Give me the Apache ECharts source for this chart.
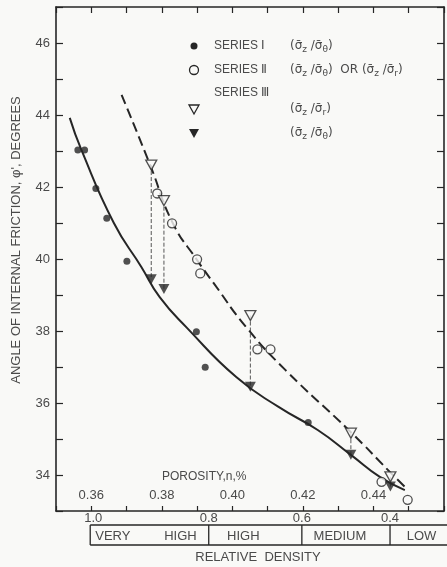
<!DOCTYPE html>
<html>
<head>
<meta charset="utf-8">
<script src="https://cdn.jsdelivr.net/npm/echarts@6/dist/echarts.min.js"></script>
<style>
  html, body { margin: 0; padding: 0; background: #f9f9f7; }
  #main { width: 447px; height: 567px; }
</style>
</head>
<body>
<div id="main"></div>
<script>
// Series I, filled circles: porosity n, friction angle phi'
const s1Porosity = [0.3562, 0.3581, 0.3613, 0.3644, 0.3701, 0.3898, 0.3923, 0.4215];
const s1Phi = [43.03, 43.03, 41.96, 41.13, 39.94, 37.98, 36.99, 35.46];
// Series II, open circles
const s2Porosity = [0.3787, 0.3829, 0.3900, 0.3909, 0.4071, 0.4108, 0.4423, 0.4497];
const s2Phi = [41.82, 40.99, 39.99, 39.60, 37.49, 37.49, 33.81, 33.31];
// Series III, (sz/sr) open triangles
const s3rPorosity = [0.3770, 0.3806, 0.4051, 0.4336, 0.4448];
const s3rPhi = [42.61, 41.62, 38.43, 35.16, 33.95];
// Series III, (sz/stheta) filled triangles
const s3tPorosity = [0.3770, 0.3806, 0.4051, 0.4336, 0.4448];
const s3tPhi = [39.44, 39.17, 36.45, 34.56, 33.68];
// fitted curves
const fitIPorosity = [0.3539, 0.3572, 0.3664, 0.3742, 0.3794, 0.3872, 0.4011, 0.4131, 0.4242, 0.4336, 0.4419, 0.4489];
const fitIPhi = [43.92, 43.03, 41.00, 39.78, 38.94, 38.08, 36.72, 35.89, 35.25, 34.56, 33.94, 33.58];
const fitIIPorosity = [0.3686, 0.3767, 0.3831, 0.3900, 0.3947, 0.4039, 0.4150, 0.4336, 0.4447, 0.4489];
const fitIIPhi = [44.56, 42.61, 41.00, 39.97, 39.33, 38.11, 36.92, 35.19, 34.08, 33.67];
// relative density scale under the axis
const densityLabels = ['1.0', '0.8', '0.6', '0.4'];
const densityPorosity = [0.3597, 0.3933, 0.4197, 0.4447];
const bandLabels = ['VERY HIGH', 'HIGH', 'MEDIUM', 'LOW'];

const bg = '#f9f9f7';
const ink = '#262626';
const textInk = '#4a4a4a';
const font = '"Liberation Sans", Arial, sans-serif';

const chartDom = document.getElementById('main');
const myChart = echarts.init(chartDom);

const pairs = (xs, ys) => xs.map((x, i) => [x, ys[i]]);

const connectors = s3rPorosity.map((x, i) => ({
    type: 'line',
    data: [[x, s3rPhi[i]], [s3tPorosity[i], s3tPhi[i]]],
    symbol: 'none',
    silent: true,
    lineStyle: { color: '#555', width: 1, type: [4, 2] },
    z: 1
}));

const axisLineStyle = { color: ink, width: 1.6 };

const option = {
    backgroundColor: bg,
    animation: false,
    grid: { left: 56, top: 7, width: 396, height: 504 },
    xAxis: [
        {
            type: 'value', position: 'bottom', min: 0.35, max: 0.46, interval: 0.01,
            axisLine: { show: true, onZero: false, lineStyle: axisLineStyle },
            axisTick: { show: true, inside: true, length: 5, lineStyle: { color: ink, width: 1.2 } },
            axisLabel: {
                inside: true, margin: 9, color: textInk, fontSize: 13, fontFamily: font,
                formatter: (v) => (Math.round(v * 100) % 2 === 0 && v > 0.355 && v < 0.455) ? v.toFixed(2) : ''
            },
            splitLine: { show: false }
        },
        {
            type: 'value', position: 'top', min: 0.35, max: 0.46, interval: 0.01,
            axisLine: { show: true, onZero: false, lineStyle: axisLineStyle },
            axisTick: { show: true, inside: true, length: 6, lineStyle: { color: ink, width: 1.2 } },
            axisLabel: { show: false },
            splitLine: { show: false }
        }
    ],
    yAxis: [
        {
            type: 'value', position: 'left', min: 33, max: 47, interval: 1,
            axisLine: { show: true, onZero: false, lineStyle: axisLineStyle },
            axisTick: { show: true, inside: true, length: 7, lineStyle: { color: ink, width: 1.2 } },
            axisLabel: {
                margin: 6, color: textInk, fontSize: 13, fontFamily: font,
                formatter: (v) => (v % 2 === 0 ? String(v) : '')
            },
            splitLine: { show: false }
        },
        {
            type: 'value', position: 'right', min: 33, max: 47, interval: 1,
            axisLine: { show: true, onZero: false, lineStyle: axisLineStyle },
            axisTick: { show: true, inside: true, length: 7, lineStyle: { color: ink, width: 1.2 } },
            axisLabel: { show: false },
            splitLine: { show: false }
        }
    ],
    series: [
        {
            name: 'fit I', type: 'line', data: pairs(fitIPorosity, fitIPhi),
            smooth: 0.5, symbol: 'none',
            lineStyle: { color: ink, width: 2 }, z: 2
        },
        {
            name: 'fit II', type: 'line', data: pairs(fitIIPorosity, fitIIPhi),
            smooth: 0.5, symbol: 'none',
            lineStyle: { color: ink, width: 2, type: [10, 5] }, z: 2
        },
        ...connectors,
        {
            name: 'SERIES I', type: 'scatter', data: pairs(s1Porosity, s1Phi),
            symbol: 'circle', symbolSize: 7, itemStyle: { color: ink }, z: 5
        },
        {
            name: 'SERIES II', type: 'scatter', data: pairs(s2Porosity, s2Phi),
            symbol: 'circle', symbolSize: 9,
            itemStyle: { color: bg, borderColor: ink, borderWidth: 1.3 }, z: 5
        },
        {
            name: 'SERIES III r', type: 'scatter', data: pairs(s3rPorosity, s3rPhi),
            symbol: 'triangle', symbolRotate: 180, symbolSize: [11, 10],
            itemStyle: { color: bg, borderColor: ink, borderWidth: 1.3 }, z: 5
        },
        {
            name: 'SERIES III theta', type: 'scatter', data: pairs(s3tPorosity, s3tPhi),
            symbol: 'triangle', symbolRotate: 180, symbolSize: [11, 10],
            itemStyle: { color: ink }, z: 5
        }
    ]
};

option && myChart.setOption(option);

// texts and the relative density strip, placed with the chart's own x scale
const px = (v) => myChart.convertToPixel({ xAxisIndex: 0 }, v);
const txt = (x, y, text, extra) => ({
    type: 'text', x: x, y: y, z: 10,
    style: Object.assign({ text: text, fill: textInk, font: '13px ' + font, align: 'center', verticalAlign: 'middle' }, extra || {})
});

const subRich = {
    n: { fontSize: 12, fontFamily: '"DejaVu Sans", sans-serif', fill: textInk, verticalAlign: 'top', lineHeight: 14 },
    s: { fontSize: 9, fontFamily: '"DejaVu Sans", sans-serif', fill: textInk, verticalAlign: 'bottom', lineHeight: 10, padding: [6, 0, 0, 0] }
};
const ratio = (a, b) => '{n|(σ̄}{s|' + a + '}{n| /σ̄}{s|' + b + '}{n|)}';
const formula = (x, y, text) => ({
    type: 'text', x: x, y: y, z: 10,
    style: { text: text, rich: subRich, align: 'left', verticalAlign: 'middle' }
});

const graphic = [];
graphic.push(txt(16, 240, "ANGLE OF INTERNAL FRICTION, φ', DEGREES", { font: '13px ' + font }));
graphic[0].rotation = Math.PI / 2;
graphic.push(txt(162, 477, 'POROSITY,n,%', { align: 'left', font: '12px ' + font }));

// legend
const lx = 194;
graphic.push({ type: 'circle', shape: { cx: lx, cy: 46, r: 3.5 }, style: { fill: ink } });
graphic.push({ type: 'circle', shape: { cx: lx, cy: 70, r: 4.5 }, style: { fill: bg, stroke: ink, lineWidth: 1.3 } });
graphic.push({ type: 'polygon', shape: { points: [[lx - 5, 105], [lx + 5, 105], [lx, 114]] }, style: { fill: bg, stroke: ink, lineWidth: 1.3 } });
graphic.push({ type: 'polygon', shape: { points: [[lx - 5, 129], [lx + 5, 129], [lx, 138]] }, style: { fill: ink } });
graphic.push(txt(214, 46, 'SERIES Ⅰ', { align: 'left', font: '12px ' + font }));
graphic.push(txt(214, 70, 'SERIES Ⅱ', { align: 'left', font: '12px ' + font }));
graphic.push(txt(214, 93, 'SERIES Ⅲ', { align: 'left', font: '12px ' + font }));
graphic.push(formula(290, 47, ratio('z', 'θ')));
graphic.push(formula(290, 71, ratio('z', 'θ') + '{n|  OR }' + ratio('z', 'r')));
graphic.push(formula(290, 110, ratio('z', 'r')));
graphic.push(formula(290, 134, ratio('z', 'θ')));

// relative density scale
const edges = densityPorosity.map(px);
const right = 447;
const boxTop = 525, boxBottom = 545;
graphic.push({ type: 'line', shape: { x1: edges[0], y1: boxTop, x2: right, y2: boxTop }, style: { stroke: ink, lineWidth: 1.3 } });
graphic.push({ type: 'line', shape: { x1: edges[0], y1: boxBottom, x2: right, y2: boxBottom }, style: { stroke: ink, lineWidth: 1.3 } });
edges.forEach((x, i) => {
    graphic.push({ type: 'line', shape: { x1: x, y1: boxTop, x2: x, y2: boxBottom }, style: { stroke: ink, lineWidth: 1.3 } });
    graphic.push(txt(i === 0 ? x + 3 : x, 518, densityLabels[i]));
});
const bandShift = [0, -12, -6, 3];
bandLabels.forEach((lab, i) => {
    const a = edges[i], b = i + 1 < edges.length ? edges[i + 1] : right;
    if (lab.indexOf(' ') > 0) {
        const w = lab.split(' ');
        graphic.push(txt(a + 5, 536, w[0], { align: 'left' }));
        graphic.push(txt(b - 12, 536, w[1], { align: 'right' }));
    } else {
        graphic.push(txt((a + b) / 2 + bandShift[i], 536, lab));
    }
});
graphic.push(txt(258, 557, 'RELATIVE  DENSITY'));

myChart.setOption({ graphic: graphic });
</script>
</body>
</html>
